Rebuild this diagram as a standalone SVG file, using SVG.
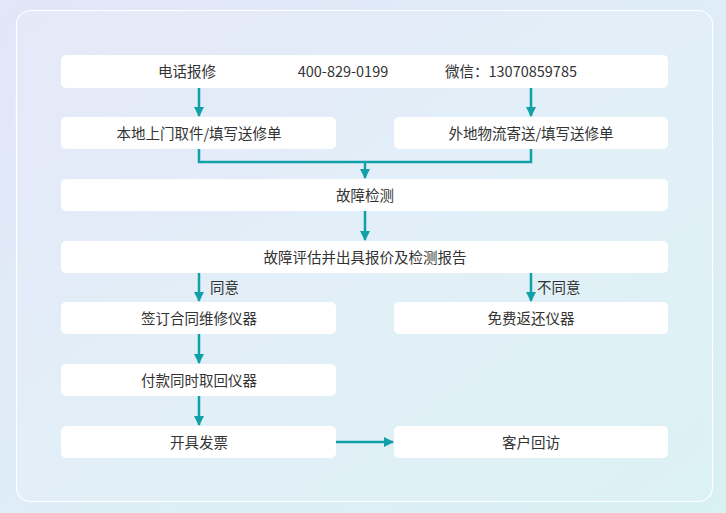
<svg xmlns="http://www.w3.org/2000/svg" width="726" height="513" viewBox="0 0 726 513">
<defs>
<linearGradient id="bg" x1="0" y1="0" x2="1" y2="1">
<stop offset="0" stop-color="#e3e5f8"/>
<stop offset="0.5" stop-color="#deedf7"/>
<stop offset="1" stop-color="#d8f1f2"/>
</linearGradient>
<marker id="ah" viewBox="0 0 10 10" refX="9" refY="5" markerWidth="4" markerHeight="4" orient="auto" markerUnits="strokeWidth">
<path d="M0,0 L10,5 L0,10 z" fill="#11a0a8"/>
</marker>
<style>
.box{fill:#ffffff;}
.t{font-family:"Microsoft YaHei","Noto Sans CJK SC","Liberation Sans",sans-serif;font-size:14.5px;fill:#333333;text-anchor:middle;dominant-baseline:central;}
.l{font-family:"Noto Sans CJK SC","Liberation Sans",sans-serif;font-size:14.5px;fill:#333333;dominant-baseline:central;}
.c{fill:none;stroke:#11a0a8;stroke-width:2.5;}
.ca{fill:none;stroke:#11a0a8;stroke-width:2.5;marker-end:url(#ah);}
</style>
</defs>
<rect width="726" height="513" fill="url(#bg)"/>
<rect x="16.5" y="10.5" width="696" height="491" rx="14" fill="#ffffff" fill-opacity="0.12" stroke="#ffffff" stroke-width="1.2"/>

<g id="connectors">
<line class="ca" x1="199" y1="88" x2="199" y2="116"/>
<line class="ca" x1="531" y1="88" x2="531" y2="116"/>
<polyline class="c" points="199,149 199,162 531,162 531,149"/>
<line class="ca" x1="365" y1="162" x2="365" y2="178"/>
<line class="ca" x1="365" y1="211" x2="365" y2="240"/>
<line class="ca" x1="199" y1="273" x2="199" y2="301"/>
<line class="ca" x1="531" y1="273" x2="531" y2="301"/>
<line class="ca" x1="199" y1="334" x2="199" y2="363"/>
<line class="ca" x1="199" y1="396" x2="199" y2="425"/>
<line class="ca" x1="336" y1="442" x2="393" y2="442"/>
<text class="l" x="210" y="286">同意</text>
<text class="l" x="537" y="286">不同意</text>
</g>

<g id="n1">
<rect class="box" x="61" y="55" width="607" height="33" rx="5"/>
<text class="t" x="187" y="70.5">电话报修</text>
<text class="t" x="343" y="70.5">400-829-0199</text>
<text class="t" x="511" y="70.5">微信：13070859785</text>
</g>
<g id="n2"><rect class="box" x="61" y="117" width="275" height="32" rx="5"/><text class="t" x="199" y="132">本地上门取件/填写送修单</text></g>
<g id="n3"><rect class="box" x="394" y="117" width="274" height="32" rx="5"/><text class="t" x="531" y="132">外地物流寄送/填写送修单</text></g>
<g id="n4"><rect class="box" x="61" y="179" width="607" height="32" rx="5"/><text class="t" x="365" y="194">故障检测</text></g>
<g id="n5"><rect class="box" x="61" y="241" width="607" height="32" rx="5"/><text class="t" x="365" y="256">故障评估并出具报价及检测报告</text></g>
<g id="n6"><rect class="box" x="61" y="302" width="275" height="32" rx="5"/><text class="t" x="199" y="317">签订合同维修仪器</text></g>
<g id="n7"><rect class="box" x="394" y="302" width="274" height="32" rx="5"/><text class="t" x="531" y="317">免费返还仪器</text></g>
<g id="n8"><rect class="box" x="61" y="364" width="275" height="32" rx="5"/><text class="t" x="199" y="379">付款同时取回仪器</text></g>
<g id="n9"><rect class="box" x="61" y="426" width="275" height="32" rx="5"/><text class="t" x="199" y="441">开具发票</text></g>
<g id="n10"><rect class="box" x="394" y="426" width="274" height="32" rx="5"/><text class="t" x="531" y="441">客户回访</text></g>
</svg>
